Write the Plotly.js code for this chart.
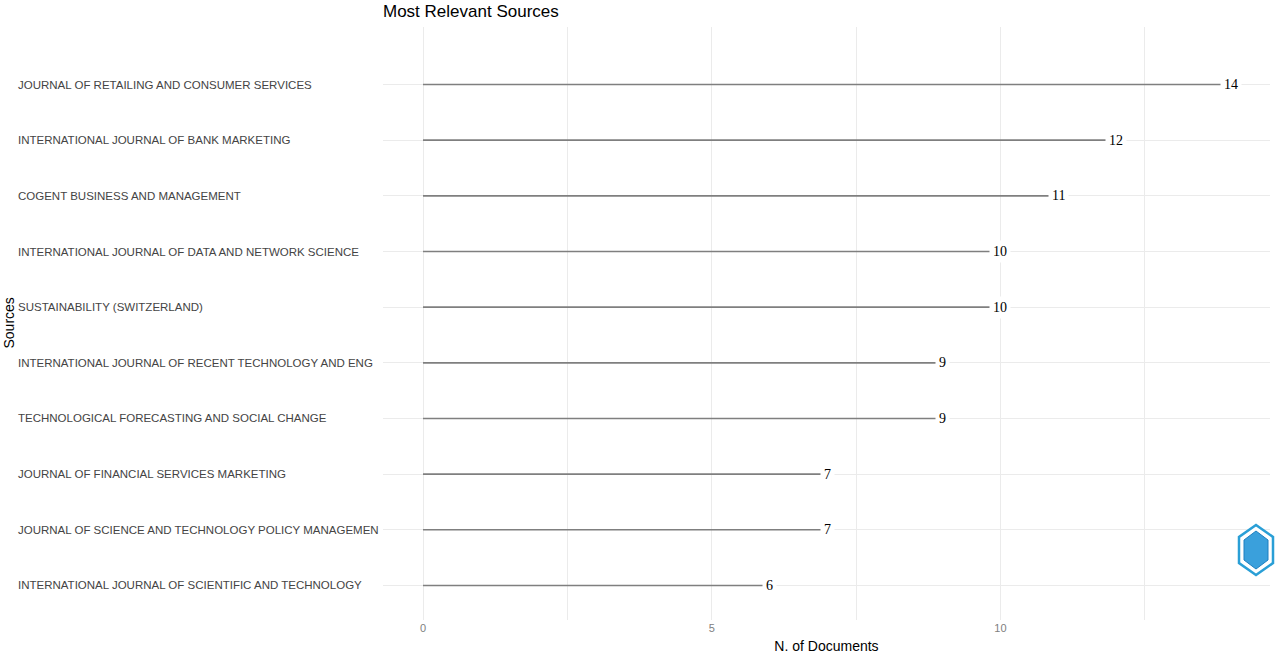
<!DOCTYPE html>
<html>
<head>
<meta charset="utf-8">
<script src="https://cdn.plot.ly/plotly-3.0.1.min.js"></script>
<style>html,body{margin:0;padding:0;background:#fff;}#chart{width:1280px;height:658px;}</style>
</head>
<body>
<div id="chart"></div>
<script>
// Data (top to bottom as shown)
const sources = [
  "JOURNAL OF RETAILING AND CONSUMER SERVICES",
  "INTERNATIONAL JOURNAL OF BANK MARKETING",
  "COGENT BUSINESS AND MANAGEMENT",
  "INTERNATIONAL JOURNAL OF DATA AND NETWORK SCIENCE",
  "SUSTAINABILITY (SWITZERLAND)",
  "INTERNATIONAL JOURNAL OF RECENT TECHNOLOGY AND ENG",
  "TECHNOLOGICAL FORECASTING AND SOCIAL CHANGE",
  "JOURNAL OF FINANCIAL SERVICES MARKETING",
  "JOURNAL OF SCIENCE AND TECHNOLOGY POLICY MANAGEMEN",
  "INTERNATIONAL JOURNAL OF SCIENTIFIC AND TECHNOLOGY"
];
const documents = [14, 12, 11, 10, 10, 9, 9, 7, 7, 6];
const xTickVals = [0, 2.5, 5, 7.5, 10, 12.5];
const xTickText = ["0", "", "5", "", "10", ""];

// bottom-to-top order for category axis
const cats = sources.slice().reverse();
const vals = documents.slice().reverse();

const lx = [], ly = [];
cats.forEach((c, i) => { lx.push(0, vals[i], null); ly.push(c, c, null); });

const traces = [{
  type: 'scatter', mode: 'lines', x: lx, y: ly,
  line: {color: '#7f7f7f', width: 1.6},
  hoverinfo: 'skip', showlegend: false, cliponaxis: false
}];

const annotations = [];
cats.forEach((c, i) => {
  annotations.push({
    x: vals[i], y: c, xref: 'x', yref: 'y', text: String(vals[i]),
    showarrow: false, bgcolor: '#ffffff', borderpad: 3,
    font: {family: 'Liberation Serif, Times New Roman, serif', size: 14, color: '#000'}
  });
  annotations.push({
    x: (16 - 383) / 887, y: c, xref: 'paper', yref: 'y', text: c,
    xanchor: 'left', yanchor: 'middle', showarrow: false,
    font: {family: 'Liberation Sans, Arial, sans-serif', size: 11.5, color: '#444'}
  });
});
annotations.push({
  x: (8 - 383) / 887, y: 0.5, xref: 'paper', yref: 'paper', text: 'Sources',
  textangle: -90, showarrow: false, xanchor: 'center', yanchor: 'middle',
  font: {family: 'Liberation Sans, Arial, sans-serif', size: 14, color: '#000'}
});

const layout = {
  width: 1280, height: 658,
  margin: {l: 383, r: 10, t: 27, b: 38},
  paper_bgcolor: '#fff', plot_bgcolor: '#fff',
  title: {
    text: 'Most Relevant Sources', x: 383 / 1280, xref: 'container', xanchor: 'left',
    y: 1 - 11 / 658, yref: 'container', yanchor: 'middle',
    font: {family: 'Liberation Sans, Arial, sans-serif', size: 17, color: '#000'}
  },
  xaxis: {
    range: [-0.693, 14.667], tickmode: 'array', tickvals: xTickVals, ticktext: xTickText,
    showgrid: true, gridcolor: '#ebebeb', gridwidth: 1, zeroline: false, showline: false,
    ticks: '', tickfont: {family: 'Liberation Sans, Arial, sans-serif', size: 11, color: '#808080'},
    title: {text: 'N. of Documents', standoff: 8,
      font: {family: 'Liberation Sans, Arial, sans-serif', size: 14, color: '#000'}},
    fixedrange: true
  },
  yaxis: {
    type: 'category', categoryorder: 'array', categoryarray: cats,
    range: [-0.62, 10.033], showticklabels: false, ticks: '',
    showgrid: true, gridcolor: '#ebebeb', gridwidth: 1, zeroline: false, showline: false,
    fixedrange: true
  },
  annotations: annotations,
  shapes: [{
    type: 'path', xref: 'paper', yref: 'paper', xsizemode: 'pixel', ysizemode: 'pixel',
    xanchor: (1256 - 383) / 887, yanchor: (620 - 550) / 593,
    path: 'M 0 25 L 17 13 L 17 -13 L 0 -25 L -17 -13 L -17 13 Z',
    line: {color: '#2a9fd6', width: 2.5}, fillcolor: '#ffffff'
  }, {
    type: 'path', xref: 'paper', yref: 'paper', xsizemode: 'pixel', ysizemode: 'pixel',
    xanchor: (1256 - 383) / 887, yanchor: (620 - 550) / 593,
    path: 'M 0 19 L 12 10 L 12 -10 L 0 -19 L -12 -10 L -12 10 Z',
    line: {color: '#1d7fc0', width: 1}, fillcolor: '#3aa0dc'
  }]
};

Plotly.newPlot('chart', traces, layout, {displayModeBar: false, staticPlot: true});
</script>
</body>
</html>
